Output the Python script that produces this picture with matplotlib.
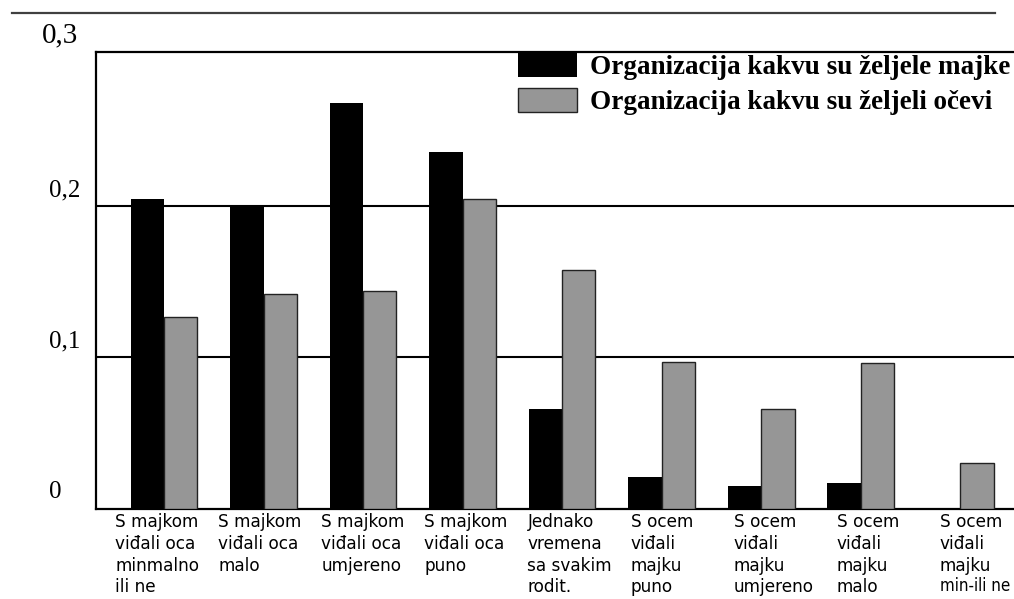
import numpy as np
import matplotlib
matplotlib.use("Agg")
import matplotlib.pyplot as plt
import matplotlib.transforms as mtransforms
from matplotlib.lines import Line2D

categories = [
    "S majkom\nviđali oca\nminmalno\nili ne",
    "S majkom\nviđali oca\nmalo",
    "S majkom\nviđali oca\numjereno",
    "S majkom\nviđali oca\npuno",
    "Jednako\nvremena\nsa svakim\nrodit.",
    "S ocem\nviđali\nmajku\npuno",
    "S ocem\nviđali\nmajku\numjereno",
    "S ocem\nviđali\nmajku\nmalo",
    "S ocem\nviđali\nmajku\nmin-ili ne",
]
majke = [0.205, 0.201, 0.268, 0.236, 0.066, 0.021, 0.015, 0.017, 0.0]
ocevi = [0.127, 0.142, 0.144, 0.205, 0.158, 0.097, 0.066, 0.096, 0.030]
series_names = ["Organizacija kakvu su željele majke",
                "Organizacija kakvu su željeli očevi"]
yticks = [0.0, 0.1, 0.2, 0.3]
ytick_labels = ["0", "0,1", "0,2", "0,3"]

W, H = 1014, 599
fig = plt.figure(figsize=(W / 100, H / 100), dpi=100)
ax = fig.add_axes([96 / W, (H - 508.5) / H, (W - 96) / W, (508.5 - 52) / H])

x = np.arange(len(categories))
bw = 0.335
b1 = ax.bar(x - bw / 2, majke, width=bw, color="black", edgecolor="none",
            label=series_names[0], zorder=3)
b2 = ax.bar(x + bw / 2, ocevi, width=bw, color="#969696", edgecolor="#222222",
            linewidth=1.0, label=series_names[1], zorder=3)

ax.set_xlim(-0.683, 8.54)
ax.set_ylim(0, 0.302)

# gridlines
for v in yticks[1:3]:
    ax.axhline(v, color="black", lw=1.5, zorder=1)

for s in ["left", "bottom", "top"]:
    ax.spines[s].set_linewidth(1.6)
    ax.spines[s].set_color("black")
ax.spines["right"].set_visible(False)

# y labels (offset above lines, serif)
ax.set_yticks([])
for v, lab in zip(yticks, ytick_labels):
    big = (lab == "0,3")
    trans = mtransforms.offset_copy(ax.get_yaxis_transform(), fig=fig, x=0,
                                    y=20 if big else 16, units="dots")
    ax.text(-0.0512 - (0.0076 if big else 0), v, lab, transform=trans,
            ha="left", va="center", family="Liberation Serif",
            fontsize=21 if big else 18)

# x labels
FS, LS, PAD = 12.2, 1.28, 3
label_pos = np.arange(len(categories)) * 1.036 - 0.492
shown = list(categories)
last_lines = categories[-1].split("\n")
shown[-1] = "\n".join(last_lines[:-1])
ax.set_xticks(label_pos)
tls = ax.set_xticklabels(shown, ha="left", va="top", fontsize=FS,
                         family="DejaVu Sans", linespacing=LS)
ax.tick_params(axis="x", length=0, pad=PAD)
# last line of the last label is set condensed (as in the original)
ax.annotate(last_lines[-1], xy=(0, 0), xycoords=tls[-1], xytext=(0, -2.0),
            textcoords="offset points", ha="left", va="top", fontsize=FS,
            family="DejaVu Sans", fontstretch="condensed", annotation_clip=False)

leg = ax.legend(handles=[b1, b2], loc="upper left",
                bbox_to_anchor=(518 / W, 1 - 53 / H), bbox_transform=fig.transFigure,
                frameon=False, borderpad=0, borderaxespad=0,
                prop={"family": "Liberation Serif", "weight": "bold", "size": 19.5},
                handlelength=2.17, handleheight=1.0, handletextpad=0.48,
                labelspacing=0.27)

# top rule
fig.add_artist(Line2D([12 / W, 995 / W], [1 - 12.5 / H, 1 - 12.5 / H],
                      color="#404040", lw=1.6, transform=fig.transFigure))

fig.savefig("out.png", dpi=100)
